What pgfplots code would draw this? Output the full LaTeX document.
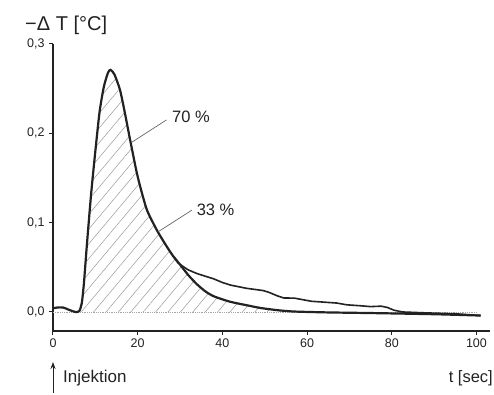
\documentclass[border=0pt]{standalone}
\usepackage{pgfplots}
\pgfplotsset{compat=1.18}
\usepackage{fontspec}
\setmainfont{Liberation Sans}
\usetikzlibrary{patterns.meta,arrows.meta}
\definecolor{ink}{HTML}{222222}

\pgfplotstableread{
t v
0 0.004
1 0.005
2.4 0.005
4 0.002
5.3 0.000
6.2 0.001
6.8 0.010
7.3 0.032
8 0.075
9 0.132
10 0.180
11 0.224
12 0.252
13 0.268
13.6 0.271
14.5 0.266
15.8 0.249
16.8 0.227
18.2 0.193
19.6 0.160
20.5 0.142
22.2 0.114
24.6 0.091
26.9 0.073
28.3 0.063
}\shared

\pgfplotstableread{
t v
28.3 0.063
30 0.053
32 0.041
34 0.031
36 0.023
38 0.0175
41.8 0.0115
45.8 0.0075
49 0.0045
53 0.002
57 0.0005
65 -0.0005
75 -0.0012
90 -0.0025
101 -0.004
}\fitted

\pgfplotstableread{
t v
28.3 0.063
29.5 0.055
31 0.050
32 0.047
34 0.043
36 0.040
38 0.037
40 0.033
42 0.030
45.7 0.0265
49.6 0.024
51 0.022
53 0.018
54.5 0.0157
57 0.0155
61 0.012
64 0.011
67 0.010
69.4 0.008
72.5 0.007
75 0.006
77.5 0.0065
79 0.005
80.5 0.002
82.6 0.000
88 -0.001
95 -0.002
101 -0.004
}\measured

\pgfplotstableread{
t v
6.2 0.000
6.8 0.010
7.3 0.032
8 0.075
9 0.132
10 0.180
11 0.224
12 0.252
13 0.268
13.6 0.271
14.5 0.266
15.8 0.249
16.8 0.227
18.2 0.193
19.6 0.160
20.5 0.142
22.2 0.114
24.6 0.091
26.9 0.073
28.3 0.063
30 0.053
32 0.041
34 0.031
36 0.023
38 0.0175
41.8 0.0115
45.8 0.0075
49 0.0045
53 0.002
56 0.000
}\hatch

\begin{document}
\begin{tikzpicture}
\useasboundingbox (-53pt,-63pt) rectangle (441pt,331pt);
\begin{axis}[
  at={(0,0)}, anchor=south west,
  scale only axis, width=437pt, height=287pt,
  xmin=0, xmax=103.2, ymin=-0.0213, ymax=0.3,
  axis lines=left,
  axis line style={line width=1.4pt, ink, -},
  clip=false,
  xtick={0,20,40,60,80,100},
  xticklabels={0,20,40,60,80,100},
  ytick={0,0.1,0.2,0.3},
  yticklabels={{0,0},{0,1},{0,2},{0,3}},
  tick align=outside,
  major tick length=4pt,
  tick style={line width=1pt, ink},
  ticklabel style={font=\fontsize{12.5}{14}\selectfont, text=ink},
  yticklabel style={xshift=-1pt},
]
\addplot[draw=none, smooth, tension=0.4, pattern={Lines[angle=50,distance=9.5pt,line width=0.5pt]}, pattern color=gray!80] table {\hatch} \closedcycle;
\addplot[densely dotted, gray!70, line width=0.8pt] coordinates {(0,0) (100,0)};
\addplot[ink, line width=1.6pt] table {\measured};
\addplot[ink, line width=2.2pt, smooth, tension=0.4] table {\fitted};
\addplot[ink, line width=2.2pt, smooth, tension=0.4] table {\shared};
\addplot[ink!70, line width=0.7pt] coordinates {(18.6,0.190) (26.8,0.215)};
\addplot[ink!70, line width=0.7pt] coordinates {(24.9,0.090) (32.8,0.114)};
\node[anchor=west, font=\fontsize{16.5}{19}\selectfont, text=ink, inner sep=0pt] at (axis cs:28.1,0.218) {70 \%};
\node[anchor=west, font=\fontsize{16.5}{19}\selectfont, text=ink, inner sep=0pt] at (axis cs:33.9,0.114) {33 \%};
\end{axis}
\node[anchor=west, font=\fontsize{20}{23}\selectfont, text=ink, inner sep=0pt] at (-28pt,306pt) {−Δ T [°C]};
\node[anchor=east, font=\fontsize{16.5}{19}\selectfont, text=ink, inner sep=0pt] at (440pt,-47pt) {t [sec]};
\node[anchor=west, font=\fontsize{17}{19}\selectfont, text=ink, inner sep=0pt] at (10pt,-47pt) {Injektion};
\draw[ink, line width=1pt, -{Stealth[length=7pt,width=5pt]}] (0,-62pt) -- (0,-31pt);
\end{tikzpicture}
\end{document}
